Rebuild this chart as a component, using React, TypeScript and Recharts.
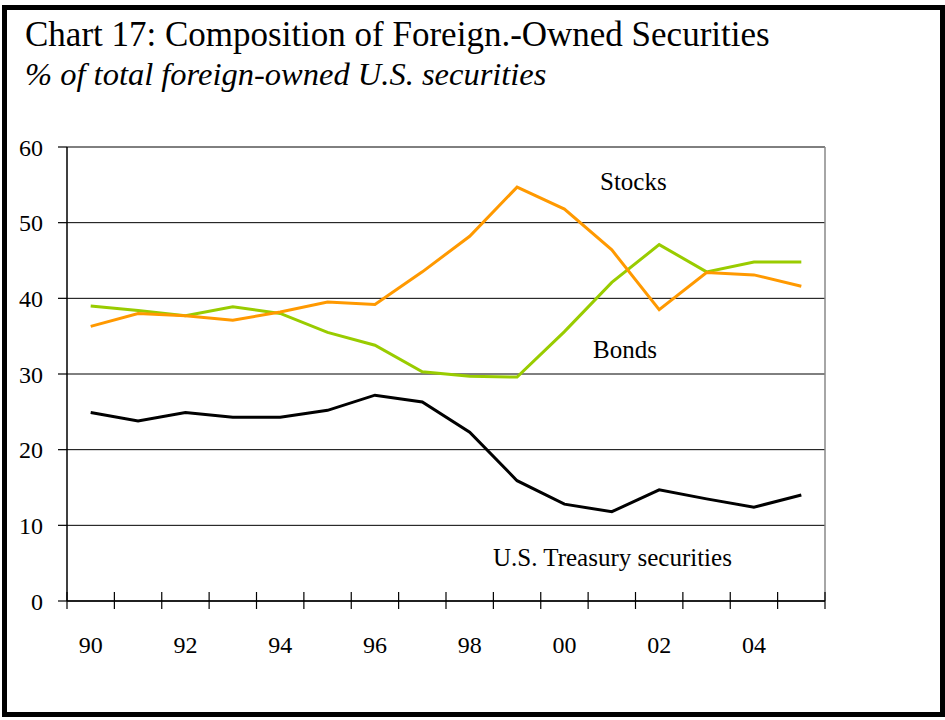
import React from 'react';
import {
  LineChart,
  Line,
  XAxis,
  YAxis,
  CartesianGrid,
  ReferenceLine,
} from 'recharts';

// share of total foreign-owned U.S. securities, %
const years = [1990, 1991, 1992, 1993, 1994, 1995, 1996, 1997, 1998, 1999, 2000, 2001, 2002, 2003, 2004, 2005];
const treasury = [24.9, 23.8, 24.9, 24.3, 24.3, 25.2, 27.2, 26.3, 22.3, 15.9, 12.8, 11.8, 14.7, 13.5, 12.4, 14.0];
const stocks = [36.3, 38.0, 37.7, 37.1, 38.2, 39.5, 39.2, 43.5, 48.2, 54.7, 51.8, 46.4, 38.5, 43.4, 43.1, 41.6];
const bonds = [39.0, 38.4, 37.7, 38.9, 38.0, 35.5, 33.8, 30.3, 29.7, 29.6, 35.6, 42.1, 47.1, 43.5, 44.8, 44.8];

const labelYears = [1990, 1992, 1994, 1996, 1998, 2000, 2002, 2004];
const yTicks = [0, 10, 20, 30, 40, 50, 60];

const data = years.map((year, i) => ({
  year,
  treasury: treasury[i],
  stocks: stocks[i],
  bonds: bonds[i],
}));

// tick marks sit between the years
const boundaries = [...years.map((y) => y - 0.5), years[years.length - 1] + 0.5];
const domain = [boundaries[0], boundaries[boundaries.length - 1]];

const FONT = '"Liberation Serif", "DejaVu Serif", serif';

const CrossTick = (props: any) => {
  const { x, y } = props;
  return <line x1={x} x2={x} y1={y - 9} y2={y + 8} stroke="#000" strokeWidth={1.2} />;
};

const YearTick = (props: any) => {
  const { x, y, payload } = props;
  return (
    <text x={x} y={y} dy="0.71em" textAnchor="middle" fill="#000" style={{ fontFamily: FONT, fontSize: 24 }}>
      {String(payload.value).slice(2)}
    </text>
  );
};

const ValueTick = (props: any) => {
  const { x, y, payload } = props;
  return (
    <text x={x} y={y} dy="0.355em" textAnchor="end" fill="#000" style={{ fontFamily: FONT, fontSize: 24 }}>
      {payload.value}
    </text>
  );
};

const Note = ({ left, top, children }: { left: number; top: number; children: React.ReactNode }) => (
  <div
    style={{
      position: 'absolute',
      left,
      top,
      fontFamily: FONT,
      fontSize: 25,
      lineHeight: '28px',
      whiteSpace: 'nowrap',
      color: '#000',
    }}
  >
    {children}
  </div>
);

export default function App() {
  return (
    <div style={{ position: 'absolute', left: 0, top: 0, width: 945, height: 720, background: '#fff', fontFamily: FONT }}>
      <div
        style={{
          position: 'absolute',
          left: 2,
          top: 5,
          width: 943,
          height: 712,
          border: '5px solid #000',
          boxSizing: 'border-box',
        }}
      />
      <div style={{ position: 'absolute', left: 25, top: 15, fontSize: 35, lineHeight: '40px', whiteSpace: 'nowrap' }}>
        Chart 17: Composition of Foreign.-Owned Securities
      </div>
      <div
        style={{
          position: 'absolute',
          left: 25,
          top: 55,
          fontStyle: 'italic',
          fontSize: 32.5,
          lineHeight: '38px',
          whiteSpace: 'nowrap',
        }}
      >
        % of total foreign-owned U.S. securities
      </div>

      <div style={{ position: 'absolute', left: 0, top: 0 }}>
        <LineChart width={945} height={720} data={data} margin={{ top: 147, right: 120, bottom: 58, left: 0 }}>
          <CartesianGrid horizontal vertical={false} stroke="#000" strokeWidth={1} />
          {/* tick marks between years, nearest the plot */}
          <XAxis
            xAxisId={0}
            dataKey="year"
            type="number"
            domain={domain}
            ticks={boundaries}
            interval={0}
            height={1}
            tickSize={0}
            tickMargin={0}
            tick={<CrossTick />}
            tickLine={false}
            axisLine={{ stroke: '#000', strokeWidth: 1.5 }}
          />
          <XAxis
            xAxisId="labels"
            dataKey="year"
            type="number"
            domain={domain}
            ticks={labelYears}
            interval={0}
            height={60}
            tickSize={0}
            tickMargin={34}
            tickLine={false}
            axisLine={false}
            tick={<YearTick />}
          />
          <YAxis
            domain={[0, 60]}
            ticks={yTicks}
            interval={0}
            width={67}
            tickSize={9}
            tickMargin={15}
            tickLine={{ stroke: '#000', strokeWidth: 1.2 }}
            axisLine={{ stroke: '#000', strokeWidth: 1.5 }}
            tick={<ValueTick />}
          />
          <ReferenceLine xAxisId={0} x={domain[1]} stroke="#888" strokeWidth={1.5} />
          <Line
            xAxisId={0}
            dataKey="treasury"
            stroke="#000"
            strokeWidth={3}
            dot={false}
            type="linear"
            isAnimationActive={false}
          />
          <Line
            xAxisId={0}
            dataKey="bonds"
            stroke="#99CC00"
            strokeWidth={3}
            dot={false}
            type="linear"
            isAnimationActive={false}
          />
          <Line
            xAxisId={0}
            dataKey="stocks"
            stroke="#FF9900"
            strokeWidth={3}
            dot={false}
            type="linear"
            isAnimationActive={false}
          />
        </LineChart>
      </div>

      <Note left={600} top={168}>Stocks</Note>
      <Note left={593} top={336}>Bonds</Note>
      <Note left={493} top={544}>U.S. Treasury securities</Note>
    </div>
  );
}
